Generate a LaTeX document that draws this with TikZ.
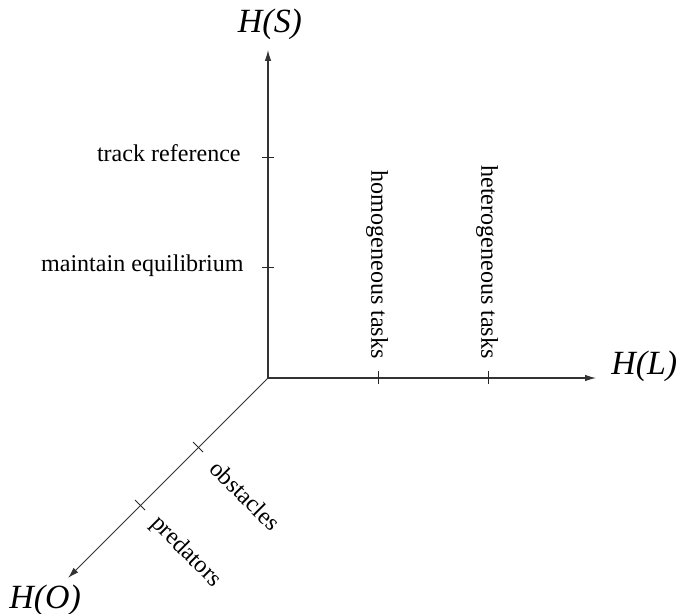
\documentclass[tikz,border=0pt]{standalone}
\usepackage{fontspec}
\setmainfont{Liberation Serif}
\usetikzlibrary{arrows.meta}

\tikzset{
  axis/.style={line width=0.6pt, color=black!80, -{Latex[length=2.2mm,width=1.3mm]}},
  tickmark/.style={line width=0.5pt, color=black!85},
  lbl/.style={inner sep=0pt, font=\fontsize{13.7}{16}\selectfont},
  axlbl/.style={inner sep=0pt, font=\fontsize{19.3}{22}\selectfont\itshape}
}

\begin{document}
\begin{tikzpicture}[x=0.02cm, y=-0.02cm]
			%%%%% START %%%%%
			\useasboundingbox (0, 0) rectangle (676, 614);
			
			\coordinate (O) at (268, 378);
			\coordinate (S) at (268, 50);
			\coordinate (L) at (596, 378);
			\coordinate (Ob) at (68, 578);
			
			% the three axes
			\draw[axis] (O) -- (S);
			\draw[axis] (O) -- (L);
			\draw[axis] (O) -- (Ob);
			
			\node[axlbl, anchor=base] (hs) at (270, 33) {H(S)};
			\node[axlbl, anchor=base west] (hl) at (611, 375) {H(L)};
			\node[axlbl, anchor=base west] (ho) at (9, 608) {H(O)};
			
			% ticks on H(S)
			\draw[tickmark] (262, 157) -- (274, 157);
			\draw[tickmark] (262, 267) -- (274, 267);
			\node[lbl, anchor=mid east] (track) at (241, 157) {track reference};
			\node[lbl, anchor=mid east] (equil) at (244, 267) {maintain equilibrium};
			
			% ticks on H(L)
			\draw[tickmark] (378, 371) -- (378, 384);
			\draw[tickmark] (488, 371) -- (488, 384);
			\node[lbl, rotate=-90, anchor=east] (homog) at (377, 359) {homogeneous tasks};
			\node[lbl, rotate=-90, anchor=east] (heterog) at (487, 359) {heterogeneous tasks};
			
			% ticks on H(O)
			\draw[tickmark] (193, 442) -- (203, 452);
			\draw[tickmark] (135, 500) -- (145, 510);
			\node[lbl, rotate=-45, anchor=west] (obst) at (214, 464) {obstacles};
			\node[lbl, rotate=-45, anchor=west] (pred) at (154, 520) {predators};
			
			%%%%% END %%%%%
		\end{tikzpicture}
\end{document}
